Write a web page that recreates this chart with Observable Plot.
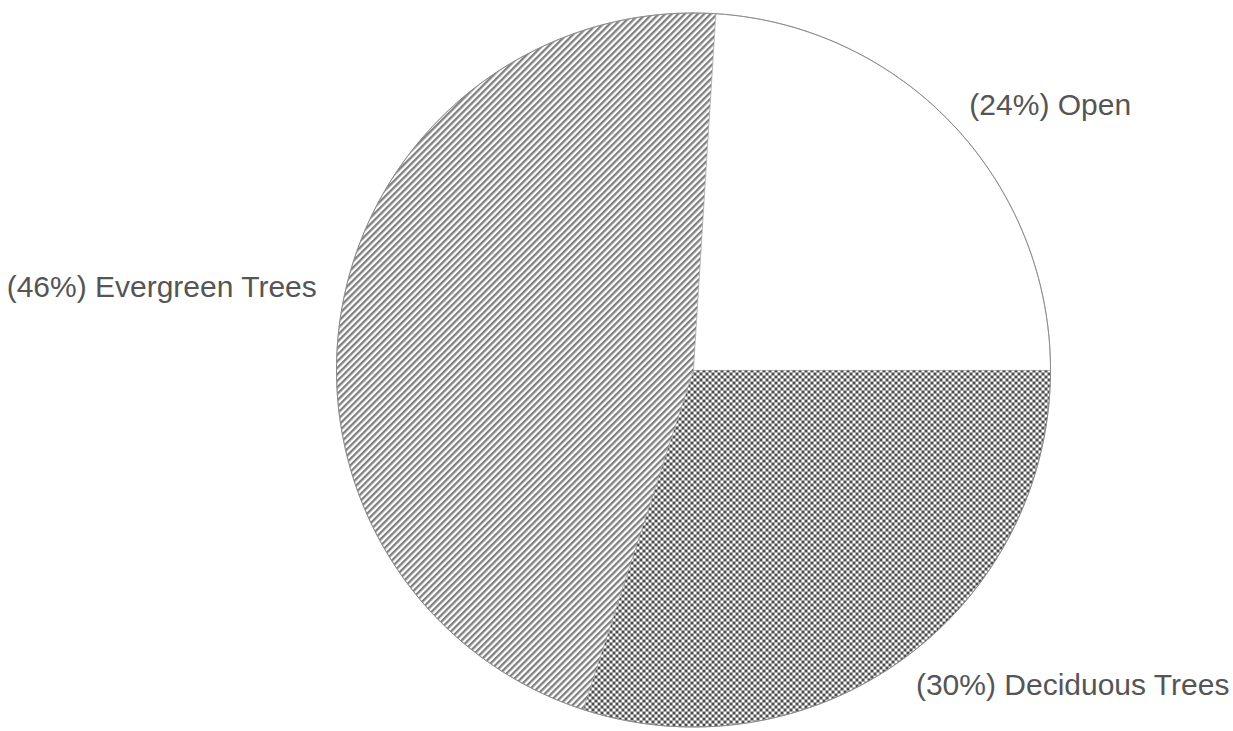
<!DOCTYPE html>
<html>
<head>
<meta charset="utf-8">
<script src="https://cdn.jsdelivr.net/npm/d3@7"></script>
<script src="https://cdn.jsdelivr.net/npm/@observablehq/plot@0.6"></script>
<style>
  html, body { margin: 0; padding: 0; background: #fff; }
  #chart svg { display: block; }
</style>
</head>
<body>
<div id="chart"></div>
<script>
// Land cover shares (percent), drawn clockwise from 3 o'clock
const categories = ["Deciduous Trees", "Evergreen Trees", "Open"];
const shares = [30, 46, 24];

// Fill pattern for each category
const sliceFill = {
  "Deciduous Trees": "url(#checker)",
  "Evergreen Trees": "url(#hatch)",
  "Open": "#ffffff"
};

const startAngle = 90;      // degrees clockwise from 12 o'clock
const labelRadius = 1.06;   // labels sit just outside the rim

const total = d3.sum(shares);
const toRad = Math.PI / 180;
const pt = (deg, r = 1) => [r * Math.sin(deg * toRad), r * Math.cos(deg * toRad)];

function arcRing(a0, a1) {
  const n = Math.max(2, Math.ceil(Math.abs(a1 - a0)));
  const ring = [[0, 0]];
  for (let i = 0; i <= n; ++i) ring.push(pt(a0 + (a1 - a0) * i / n));
  ring.push([0, 0]);
  return ring;
}

let acc = startAngle;
const slices = categories.map((name, i) => {
  const span = shares[i] / total * 360;
  const a0 = acc, a1 = acc + span;
  acc = a1;
  return {name, share: shares[i], a0, a1, mid: (a0 + a1) / 2};
});

const features = slices.map(s => ({
  type: "Feature",
  properties: {name: s.name},
  geometry: {type: "Polygon", coordinates: [arcRing(s.a0, s.a1)]}
}));

const outline = {type: "Polygon", coordinates: [arcRing(0, 360).slice(1, -1).concat([pt(0)])]};

function patterns() {
  const defs = d3.create("svg:defs");
  const hatch = defs.append("pattern")
    .attr("id", "hatch")
    .attr("patternUnits", "userSpaceOnUse")
    .attr("width", 4.6).attr("height", 10)
    .attr("patternTransform", "rotate(45)");
  hatch.append("rect").attr("width", 4.6).attr("height", 10).attr("fill", "#ffffff");
  hatch.append("rect").attr("width", 2.3).attr("height", 10).attr("fill", "#808080");

  const checker = defs.append("pattern")
    .attr("id", "checker")
    .attr("patternUnits", "userSpaceOnUse")
    .attr("width", 6).attr("height", 6);
  checker.append("rect").attr("width", 6).attr("height", 6).attr("fill", "#4d4d4d");
  checker.append("rect").attr("width", 3).attr("height", 3).attr("fill", "#ffffff");
  checker.append("rect").attr("x", 3).attr("y", 3).attr("width", 3).attr("height", 3).attr("fill", "#ffffff");
  return defs.node();
}

// Label placement: the text's nearest corner (or side) touches the point
// just outside the rim at the slice's mid-angle
function labelMark(s) {
  const [x, y] = pt(s.mid, labelRadius);
  const c = Math.cos(s.mid * toRad);
  const left = Math.sin(s.mid * toRad) < 0;
  return Plot.text([s], {
    x: () => x,
    y: () => y,
    text: d => `(${d.share}%) ${d.name}`,
    textAnchor: left ? "end" : "start",
    lineAnchor: c > 0.5 ? "bottom" : c < -0.5 ? "top" : "middle",
    dy: c > 0.5 ? 4 : c < -0.5 ? -2 : -12,
    dx: left ? -5 : 0,
    fontSize: 30,
    fontFamily: "'Liberation Sans', Arial, sans-serif",
    fill: "#555555"
  });
}

const chart = Plot.plot({
  width: 1233,
  height: 731,
  margin: 0,
  projection: {
    type: "reflect-y",
    domain: outline,
    insetLeft: 336,
    insetRight: 183,
    insetTop: 12,
    insetBottom: 4
  },
  color: {type: "identity"},
  style: {background: "#ffffff", overflow: "visible"},
  marks: [
    patterns,
    Plot.geo(features, {
      fill: d => sliceFill[d.properties.name],
      stroke: "#9a9a9a",
      strokeWidth: 0.6
    }),
    Plot.geo([outline], {fill: "none", stroke: "#8a8a8a", strokeWidth: 1}),
    ...slices.map(labelMark)
  ]
});

document.getElementById("chart").append(chart);
</script>
</body>
</html>
